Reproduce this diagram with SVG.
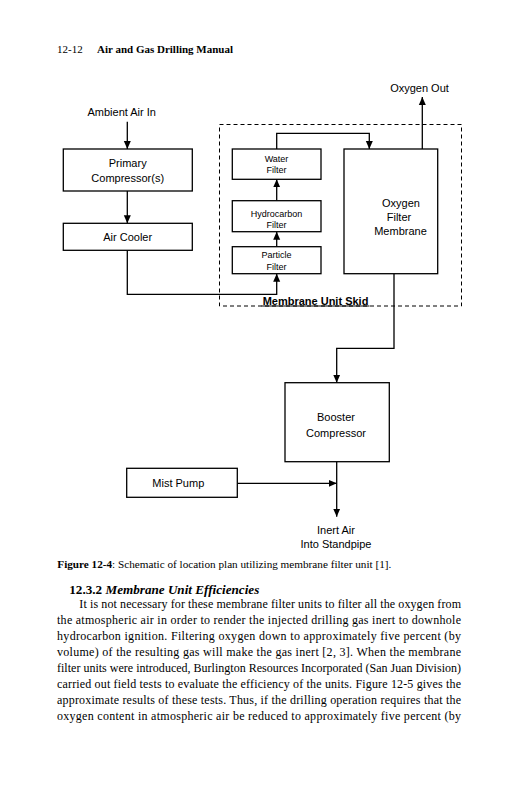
<svg xmlns="http://www.w3.org/2000/svg" width="516" height="800" viewBox="0 0 516 800">
<style>
.bg{fill:#fff}
.box{fill:#fff;stroke:#000;stroke-width:1.3}
.skid{fill:none;stroke:#000;stroke-width:1;stroke-dasharray:4 3}
.wire{fill:none;stroke:#000;stroke-width:1.3}
.lbl{font-family:"Liberation Sans",Arial,sans-serif;font-size:11px;fill:#000;text-anchor:middle}
.sm{font-size:9px}
.bold{font-weight:bold}
.serif{font-family:"Liberation Serif","Times New Roman",serif;fill:#000}
</style>
<defs>
<marker id="ah" markerUnits="userSpaceOnUse" markerWidth="8" markerHeight="8" refX="8" refY="4" orient="auto">
<path d="M0,0.5 L8,4 L0,7.5 z" fill="#000"/>
</marker>
</defs>
<rect class="bg" x="0" y="0" width="516" height="800"/>

<g id="header">
<text class="serif" x="57" y="53" font-size="11">12-12</text>
<text class="serif" x="97" y="53" font-size="10.5" font-weight="bold" textLength="136" lengthAdjust="spacingAndGlyphs">Air and Gas Drilling Manual</text>
</g>

<g id="skid">
<rect class="skid" x="219.5" y="124.5" width="242" height="181.5"/>
<line x1="261.5" y1="306" x2="369.5" y2="306" stroke="#000" stroke-width="1"/>
<text class="lbl bold" x="315.5" y="304.5">Membrane Unit Skid</text>
</g>

<g id="connectors">
<path class="wire" d="M127.3,121.7 V149" marker-end="url(#ah)"/>
<path class="wire" d="M127.3,191 V223.3" marker-end="url(#ah)"/>
<path class="wire" d="M127.3,250.3 V294.3 H276.7 V273.7" marker-end="url(#ah)"/>
<path class="wire" d="M276.7,246.7 V231.7" marker-end="url(#ah)"/>
<path class="wire" d="M276.7,200.7 V179.3" marker-end="url(#ah)"/>
<path class="wire" d="M276.7,149 V133.3 H369.3 V149" marker-end="url(#ah)"/>
<path class="wire" d="M422.3,149 V97" marker-end="url(#ah)"/>
<path class="wire" d="M394,273.7 V348.3 H336.7 V382.7" marker-end="url(#ah)"/>
<path class="wire" d="M336.7,461.7 V516.7" marker-end="url(#ah)"/>
<path class="wire" d="M237.3,483.3 H336.7" marker-end="url(#ah)"/>
</g>

<g id="ambient-air">
<text class="lbl" x="121.7" y="116">Ambient Air In</text>
</g>
<g id="primary-compressor">
<rect class="box" x="63.3" y="149" width="129" height="42"/>
<text class="lbl" x="127.7" y="167">Primary</text>
<text class="lbl" x="127.7" y="182">Compressor(s)</text>
</g>
<g id="air-cooler">
<rect class="box" x="63.3" y="223.3" width="129" height="27"/>
<text class="lbl" x="127.7" y="240.5">Air Cooler</text>
</g>
<g id="water-filter">
<rect class="box" x="232.3" y="149" width="88.7" height="30.3"/>
<text class="lbl sm" x="276.5" y="161.5">Water</text>
<text class="lbl sm" x="276.5" y="172.5">Filter</text>
</g>
<g id="hydrocarbon-filter">
<rect class="box" x="232.3" y="200.7" width="88.7" height="31"/>
<text class="lbl sm" x="276.5" y="216.5">Hydrocarbon</text>
<text class="lbl sm" x="276.5" y="227.5">Filter</text>
</g>
<g id="particle-filter">
<rect class="box" x="232.3" y="246.7" width="88.7" height="27"/>
<text class="lbl sm" x="276.5" y="257.5">Particle</text>
<text class="lbl sm" x="276.5" y="270">Filter</text>
</g>
<g id="oxygen-filter-membrane">
<rect class="box" x="344" y="149" width="93.7" height="124.7"/>
<text class="lbl" x="401" y="206.5">Oxygen</text>
<text class="lbl" x="399" y="220.5">Filter</text>
<text class="lbl" x="400.5" y="234.5">Membrane</text>
</g>
<g id="oxygen-out">
<text class="lbl" x="419.5" y="92">Oxygen Out</text>
</g>
<g id="booster-compressor">
<rect class="box" x="285" y="382.7" width="104.3" height="79"/>
<text class="lbl" x="336" y="420.5">Booster</text>
<text class="lbl" x="336" y="436.5">Compressor</text>
</g>
<g id="mist-pump">
<rect class="box" x="126.7" y="468.3" width="110.6" height="29"/>
<text class="lbl" x="178.3" y="487">Mist Pump</text>
</g>
<g id="inert-air">
<text class="lbl" x="336" y="534">Inert Air</text>
<text class="lbl" x="336" y="548">Into Standpipe</text>
</g>

<g id="caption">
<text class="serif" x="57.3" y="568" font-size="10.6" textLength="334" lengthAdjust="spacingAndGlyphs"><tspan font-weight="bold">Figure 12-4</tspan>: Schematic of location plan utilizing membrane filter unit [1].</text>
</g>
<g id="body">
<text class="serif" x="69.3" y="594" font-size="13" font-weight="bold" textLength="190" lengthAdjust="spacingAndGlyphs">12.3.2 <tspan font-style="italic">Membrane Unit Efficiencies</tspan></text>
<g font-size="12">
<text class="serif" x="79.3" y="607.5" textLength="381.7" lengthAdjust="spacing">It is not necessary for these membrane filter units to filter all the oxygen from</text>
<text class="serif" x="57" y="623.6" textLength="404" lengthAdjust="spacing">the atmospheric air in order to render the injected drilling gas inert to downhole</text>
<text class="serif" x="57" y="639.7" textLength="404" lengthAdjust="spacing">hydrocarbon ignition.  Filtering oxygen down to approximately five percent (by</text>
<text class="serif" x="57" y="655.8" textLength="404" lengthAdjust="spacing">volume) of the resulting gas will make the gas inert [2, 3].  When the membrane</text>
<text class="serif" x="57" y="671.9" textLength="404" lengthAdjust="spacing">filter units were introduced, Burlington Resources Incorporated (San Juan Division)</text>
<text class="serif" x="57" y="688" textLength="404" lengthAdjust="spacing">carried out field tests to evaluate the efficiency of the units.  Figure 12-5 gives the</text>
<text class="serif" x="57" y="704.1" textLength="404" lengthAdjust="spacing">approximate results of these tests.  Thus, if the drilling operation requires that the</text>
<text class="serif" x="57" y="720.2" textLength="404" lengthAdjust="spacing">oxygen content in atmospheric air be reduced to approximately five percent (by</text>
</g>
</g>
</svg>
